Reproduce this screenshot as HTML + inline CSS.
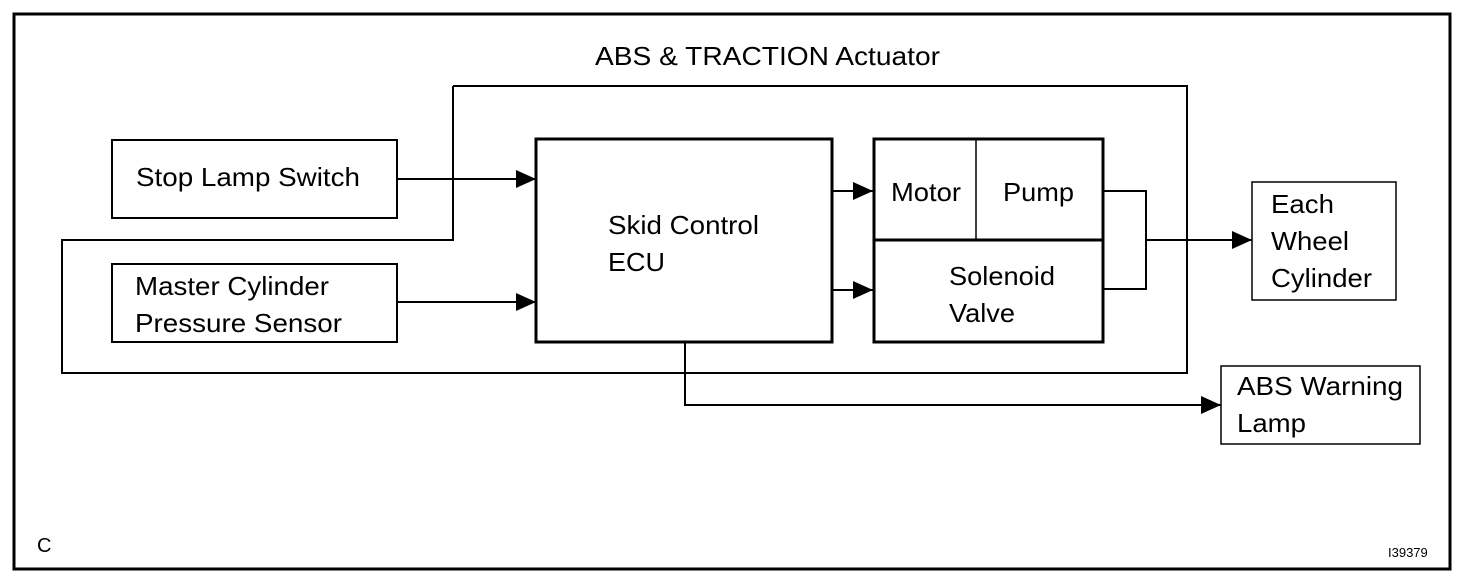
<!DOCTYPE html>
<html><head><style>
body{margin:0;background:#fff;}
svg{display:block;}
text{font-family:"Liberation Sans",Arial,sans-serif;font-size:26px;fill:#000;}
</style></head><body>
<svg width="1472" height="584" viewBox="0 0 1472 584" xmlns="http://www.w3.org/2000/svg">
<defs><marker id="a" markerWidth="20" markerHeight="18" refX="20" refY="9" orient="auto" markerUnits="userSpaceOnUse"><path d="M0,0 L20,9 L0,18 Z" fill="#000"/></marker></defs>
<rect x="14" y="14" width="1436" height="555" fill="none" stroke="#000" stroke-width="3"/>
<polyline points="453,86 1187,86 1187,373 62,373 62,240 453,240 453,86" fill="none" stroke="#000" stroke-width="2"/>
<rect x="112" y="140" width="285" height="78" fill="#fff" stroke="#000" stroke-width="2"/>
<rect x="112" y="264" width="285" height="78" fill="#fff" stroke="#000" stroke-width="2"/>
<rect x="536" y="139" width="296" height="203" fill="#fff" stroke="#000" stroke-width="3"/>
<rect x="874" y="139" width="229" height="203" fill="#fff" stroke="#000" stroke-width="3"/>
<line x1="874" y1="240" x2="1103" y2="240" stroke="#000" stroke-width="3"/>
<line x1="976" y1="139" x2="976" y2="240" stroke="#000" stroke-width="1.5"/>
<rect x="1252" y="182" width="144" height="118" fill="#fff" stroke="#000" stroke-width="1.5"/>
<rect x="1221" y="366" width="199" height="78" fill="#fff" stroke="#000" stroke-width="1.5"/>
<g stroke="#000" stroke-width="2" fill="none">
<line x1="397" y1="179" x2="536" y2="179" marker-end="url(#a)"/>
<line x1="397" y1="302" x2="536" y2="302" marker-end="url(#a)"/>
<line x1="832" y1="191" x2="873" y2="191" marker-end="url(#a)"/>
<line x1="832" y1="290" x2="873" y2="290" marker-end="url(#a)"/>
<polyline points="1103,191 1146,191 1146,289 1103,289"/>
<line x1="1146" y1="240" x2="1252" y2="240" marker-end="url(#a)"/>
<polyline points="685,342 685,405 1221,405" marker-end="url(#a)"/>
</g>
<text x="595" y="65" textLength="345" lengthAdjust="spacingAndGlyphs">ABS &amp; TRACTION Actuator</text>
<text x="136" y="186" textLength="224" lengthAdjust="spacingAndGlyphs">Stop Lamp Switch</text>
<text x="135" y="295" textLength="194" lengthAdjust="spacingAndGlyphs">Master Cylinder</text>
<text x="135" y="332" textLength="207" lengthAdjust="spacingAndGlyphs">Pressure Sensor</text>
<text x="608" y="234" textLength="151" lengthAdjust="spacingAndGlyphs">Skid Control</text>
<text x="608" y="271" textLength="57" lengthAdjust="spacingAndGlyphs">ECU</text>
<text x="891" y="201" textLength="70" lengthAdjust="spacingAndGlyphs">Motor</text>
<text x="1003" y="201" textLength="71" lengthAdjust="spacingAndGlyphs">Pump</text>
<text x="949" y="285" textLength="106" lengthAdjust="spacingAndGlyphs">Solenoid</text>
<text x="949" y="322" textLength="66" lengthAdjust="spacingAndGlyphs">Valve</text>
<text x="1271" y="213" textLength="63" lengthAdjust="spacingAndGlyphs">Each</text>
<text x="1271" y="250" textLength="78" lengthAdjust="spacingAndGlyphs">Wheel</text>
<text x="1271" y="287" textLength="101" lengthAdjust="spacingAndGlyphs">Cylinder</text>
<text x="1237" y="395" textLength="166" lengthAdjust="spacingAndGlyphs">ABS Warning</text>
<text x="1237" y="432" textLength="69" lengthAdjust="spacingAndGlyphs">Lamp</text>
<text x="37" y="552" style="font-size:20px">C</text>
<text x="1388" y="557" style="font-size:13px">I39379</text>
</svg>
</body></html>
